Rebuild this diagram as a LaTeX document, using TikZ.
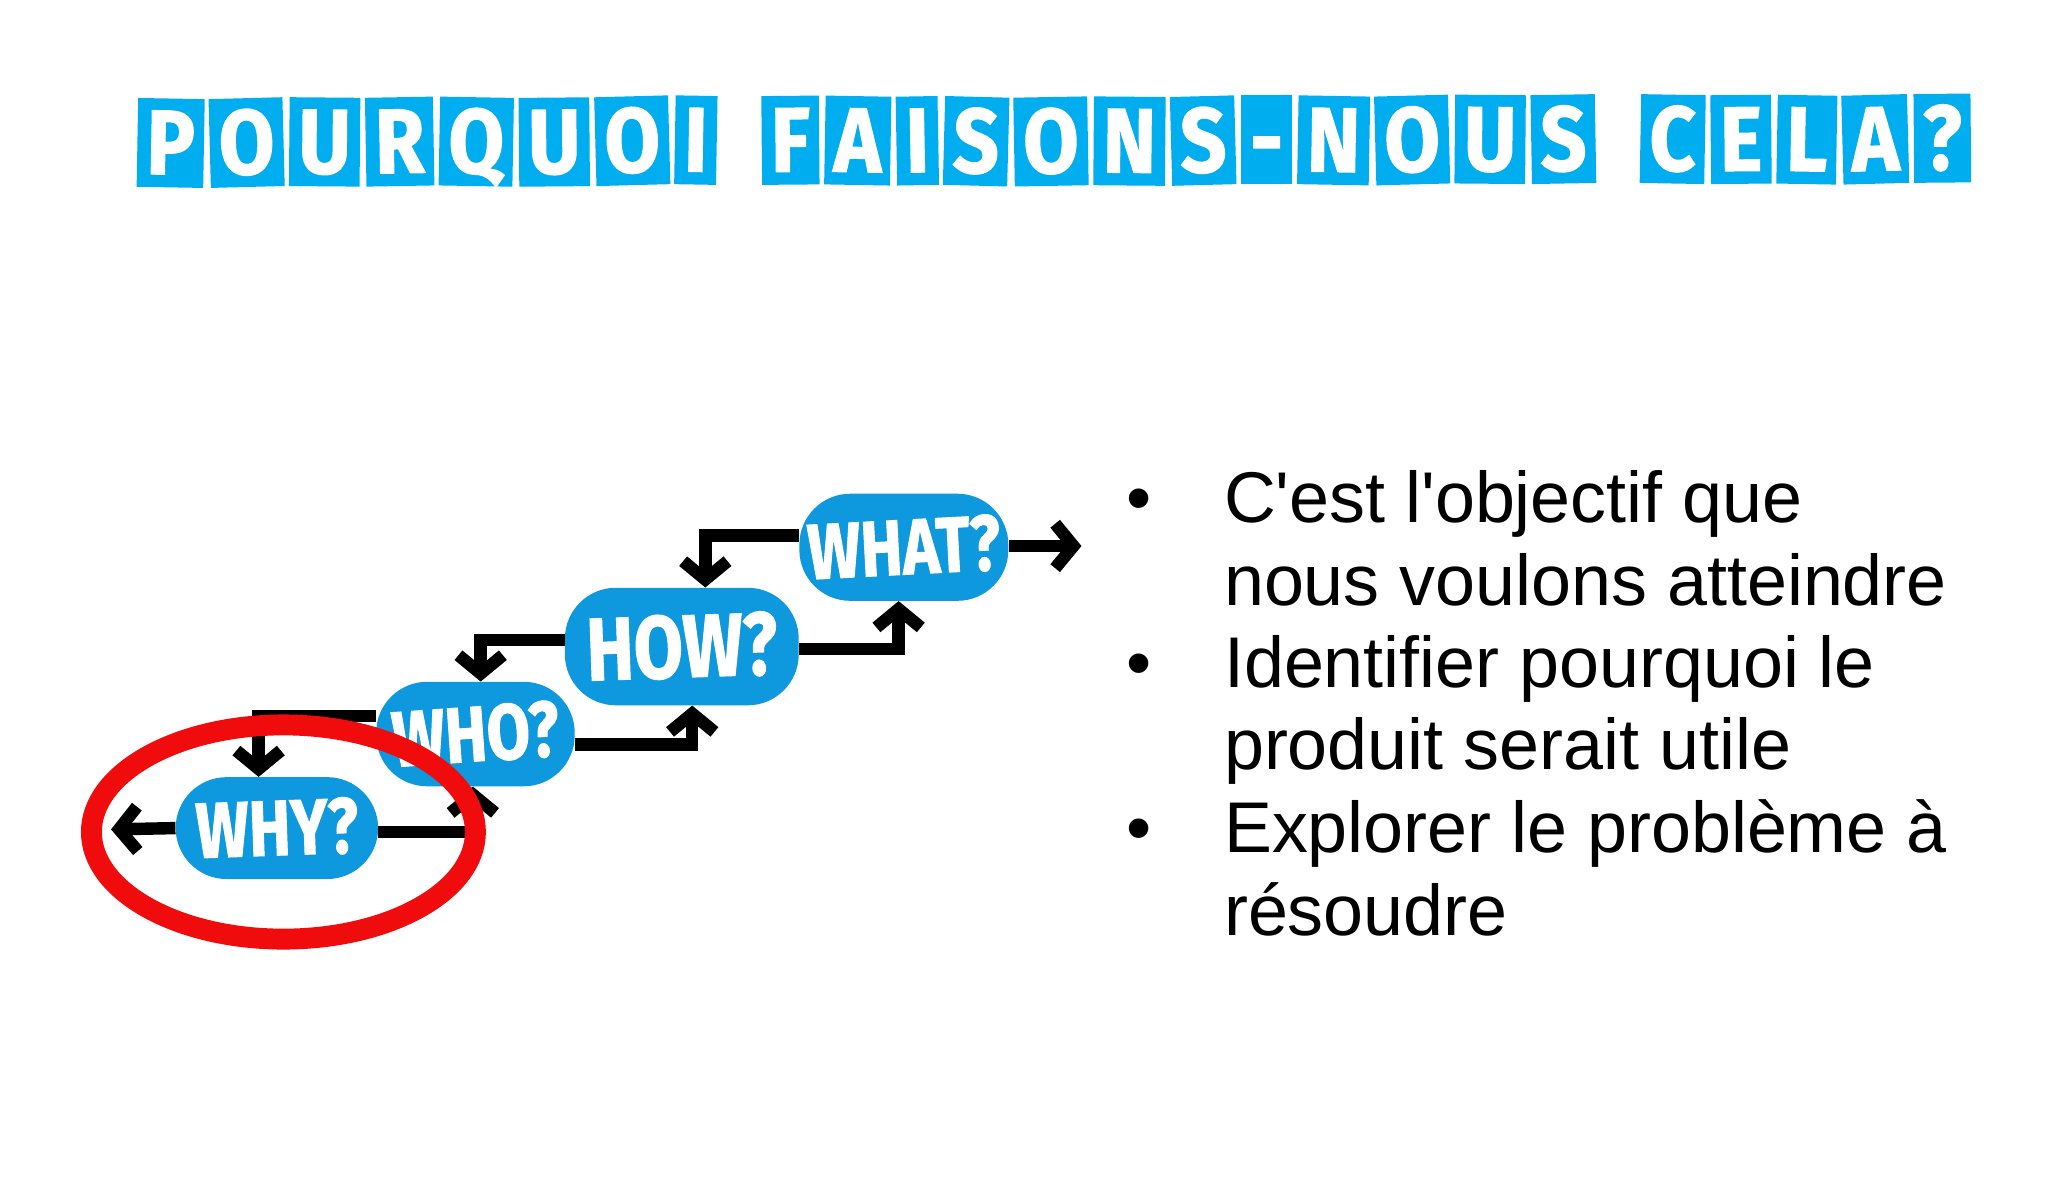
\documentclass[tikz,border=0pt]{standalone}
\usepackage{fontspec}
\setmainfont{Liberation Sans}
\newfontfamily\titlefont{Fira Sans}[BoldFeatures={FakeBold=1.5}]
\usetikzlibrary{arrows.meta,positioning,shapes.geometric}
\definecolor{titleblue}{RGB}{0,174,239}
\definecolor{blobblue}{RGB}{14,152,222}
\definecolor{ringred}{RGB}{240,12,12}
\begin{document}
\begin{tikzpicture}[x=1pt,y=1pt,
  tl/.style={fill=titleblue, text=white, inner xsep=7pt, inner ysep=0pt,
    minimum height=68pt, text height=48pt, text depth=0pt,
    font=\titlefont\bfseries\fontsize{70}{70}\selectfont},
  blob/.style={fill=blobblue, text=white, rounded corners=39pt, inner sep=0pt,
    font=\titlefont\bfseries},
  conn/.style={line width=9.5pt, line join=miter,
    -{Straight Barb[length=14pt,width=34pt]}},
  body/.style={inner sep=0pt, anchor=base west},
  dot/.style={inner sep=0pt, anchor=base, font=\fontsize{55}{63}\selectfont}]
\fill[white] (0,0) rectangle (1568,-916);
\useasboundingbox (0,0) rectangle (1568,-916);
% title
\foreach \ch/\rt/\gp [count=\i] in {P/-1/0,O/1.5/4,U/-0.5/4,R/1/4,Q/-1/4,U/0.5/4,O/1.5/4,I/-1/4,
  F/0.5/34,A/-1/4,I/1/4,S/-1.5/4,O/1/4,N/-0.5/4,S/1.5/4,-/0/4,N/-1/4,O/1.5/4,U/-0.5/4,S/1/4,
  C/-1/34,E/0.5/4,L/-1/4,A/1.5/4,?/0.5/4}{
  \ifnum\i=1
    \node[tl, rotate=\rt, anchor=west] (t1) at (105,-109) {\scalebox{0.88}[1]{\ch}};
  \else
    \pgfmathtruncatemacro\pv{\i-1}
    \node[tl, rotate=\rt, anchor=west] (t\i) at ([xshift=\gp pt]t\pv.east) {\scalebox{0.88}[1]{\ch}};
  \fi
}
% blobs
\node[blob, minimum width=160pt, minimum height=82pt] (what) at (692,-419)
  {\rotatebox{3}{\scalebox{0.8}[1]{\fontsize{60}{60}\selectfont WHAT?}}};
\node[blob, minimum width=179pt, minimum height=90pt] (how) at (522,-495)
  {\rotatebox{2}{\scalebox{0.8}[1]{\fontsize{68}{68}\selectfont HOW?}}};
\node[blob, minimum width=152pt, minimum height=80pt] (who) at (364,-562)
  {\rotatebox{4}{\scalebox{0.8}[1]{\fontsize{60}{60}\selectfont WHO?}}};
\node[blob, minimum width=155pt, minimum height=78pt] (why) at (212,-634)
  {\rotatebox{2}{\scalebox{0.8}[1]{\fontsize{60}{60}\selectfont WHY?}}};
% connectors
\coordinate (outR) at (828,-418);
\coordinate (outL) at (85,-635);
\draw[conn] ([yshift=1pt]what.east) -- (outR);
\draw[conn] ([yshift=9pt]what.west) -| ([xshift=18pt]how.north);
\draw[conn] ([yshift=-2pt]how.east) -| ([xshift=-4pt]what.south);
\draw[conn] ([yshift=5pt]how.west) -| ([xshift=4pt]who.north);
\draw[conn] ([yshift=-8pt]who.east) -| ([xshift=8pt]how.south);
\draw[conn] ([yshift=14pt]who.west) -| ([xshift=-14pt]why.north);
\draw[conn] ([yshift=-3pt]why.east) -| ([xshift=-2pt]who.south);
\draw[conn] (why.west) -- (outL);
% red ring
\node[draw=ringred, line width=16pt, ellipse, minimum width=294pt, minimum height=164pt, inner sep=0pt] (ring) at (217,-637) {};
% bullets
\node[dot] (d1) at (872,-400) {•};
\node[dot] (d2) at (872,-526) {•};
\node[dot] (d3) at (872,-653) {•};
\node[body] (b1) at (937,-400) {\parbox[t]{620pt}{\fontsize{55}{63.3}\selectfont C\textquotesingle est l\textquotesingle objectif que\\nous voulons atteindre}};
\node[body] (b2) at (937,-526) {\parbox[t]{620pt}{\fontsize{55}{63.3}\selectfont Identifier pourquoi le\\produit serait utile}};
\node[body] (b3) at (937,-653) {\parbox[t]{620pt}{\fontsize{55}{63.3}\selectfont Explorer le problème à\\résoudre}};
\end{tikzpicture}
\end{document}
